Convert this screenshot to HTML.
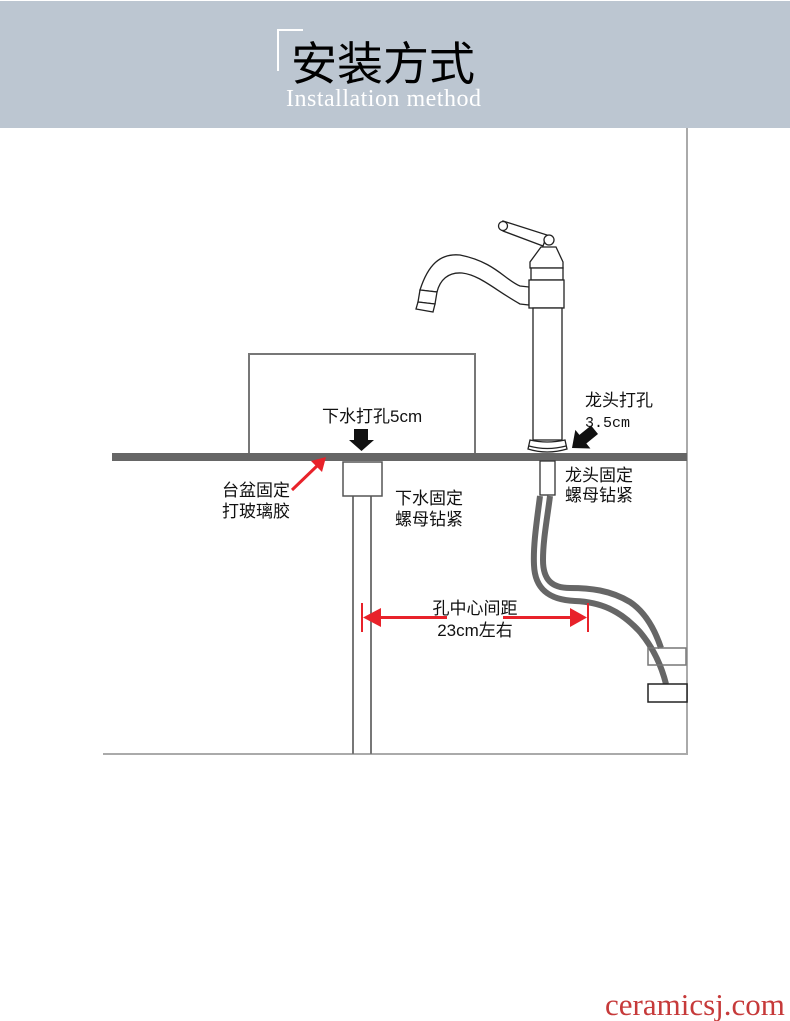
<!DOCTYPE html>
<html><head><meta charset="utf-8"><style>
html,body{margin:0;padding:0;background:#fff;}
svg{display:block;}
.cjk{font-family:"Liberation Sans","Noto Sans CJK SC",sans-serif;font-size:17px;fill:#111;}
</style></head><body>
<svg width="790" height="1021" viewBox="0 0 790 1021" xmlns="http://www.w3.org/2000/svg">
<rect x="0" y="0" width="790" height="1021" fill="#fff"/>
<!-- header -->
<rect x="0" y="1" width="790" height="127" fill="#bcc6d1"/>
<path d="M278 71 V30 H303" stroke="#fff" stroke-width="2" fill="none"/>
<text x="291" y="80" style="font-family:'Noto Sans CJK SC',sans-serif;font-size:46px;fill:#000;">安装方式</text>
<text x="286" y="106" style="font-family:'Liberation Serif',serif;font-size:24px;fill:#fff;letter-spacing:0.5px;">Installation method</text>

<!-- wall & floor -->
<line x1="687" y1="128" x2="687" y2="755" stroke="#aaa" stroke-width="2"/>
<line x1="103" y1="754" x2="688" y2="754" stroke="#aaa" stroke-width="2"/>

<!-- basin -->
<rect x="249" y="354" width="226" height="100" fill="#fff" stroke="#777" stroke-width="2"/>
<!-- counter -->
<rect x="112" y="453" width="575" height="8" fill="#666"/>

<!-- drain pipe -->
<line x1="353" y1="496" x2="353" y2="754" stroke="#777" stroke-width="2"/>
<line x1="371" y1="496" x2="371" y2="754" stroke="#777" stroke-width="2"/>
<rect x="343" y="462" width="39" height="34" fill="#fff" stroke="#555" stroke-width="1.5"/>

<!-- hose -->
<path d="M540 496 C537 520,533 545,534 565 C535 590,550 600,575 601 C600 602,620 610,640 632 C655 650,662 668,666 684" stroke="#666" stroke-width="6" fill="none"/>
<path d="M550 496 C547 520,543 540,543 560 C543 580,552 588,570 588 C590 588,610 590,630 602 C645 612,655 630,661 648" stroke="#666" stroke-width="6" fill="none"/>
<rect x="540" y="461" width="15" height="34" fill="#fff" stroke="#333" stroke-width="1.3"/>
<!-- wall boxes -->
<rect x="648" y="648" width="38" height="17" fill="none" stroke="#777" stroke-width="1.5"/>
<rect x="648" y="684" width="39" height="18" fill="#fff" stroke="#222" stroke-width="1.5"/>

<!-- faucet -->
<g stroke="#222" stroke-width="1.3" fill="#fff">
  <!-- spout -->
  <path d="M529 287 L520 286 C505 280,495 262,460 255 C440 253,428 265,420 290 L437 292 C440 280,448 272,462 273 C480 275,495 290,520 304 L529 305 Z"/>
  <path d="M420 290 L437 292 L435 304 L418 302 Z"/>
  <path d="M418 302 L435 304 L433 312 L416 309 Z"/>
  <!-- lever -->
  <path d="M503 221 L547 235 L543 246 L503 231 Z"/>
  <circle cx="503" cy="226" r="4.5"/>
  <circle cx="549" cy="240" r="5"/>
  <!-- cap -->
  <path d="M541 247 L556 247 L563 262 L563 268 L530 268 L530 262 Z"/>
  <rect x="531" y="268" width="32" height="12"/>
  <rect x="529" y="280" width="35" height="28"/>
  <rect x="533" y="308" width="29" height="132"/>
  <!-- base -->
  <path d="M530 440 Q547 444 565 440 L567 449 Q547 455 528 449 Z"/>
  <path d="M529 446 Q547 451 566 446" fill="none"/>
</g>

<!-- black arrows -->
<path d="M354 429 H368 V440 H374 L361.5 451 L349 440 H354 Z" fill="#111"/>
<g transform="translate(572,448) rotate(141)">
  <path d="M0 0 L-14 -12 L-14 -5.5 L-29 -5.5 L-29 5.5 L-14 5.5 L-14 12 Z" fill="#111"/>
</g>

<!-- red arrow basin -->
<line x1="292" y1="490" x2="318" y2="465" stroke="#e8222a" stroke-width="3"/>
<path d="M326 457 L322 472 L311 461 Z" fill="#e8222a"/>

<!-- red dimension -->
<g fill="#e8222a" stroke="none">
  <rect x="361" y="603" width="2" height="29"/>
  <rect x="587" y="603" width="2" height="29"/>
  <rect x="379" y="616" width="68" height="3"/>
  <rect x="503" y="616" width="70" height="3"/>
  <path d="M363 617.5 L381 608 L381 627 Z"/>
  <path d="M587 617.5 L570 608 L570 627 Z"/>
</g>

<!-- labels -->
<text class="cjk" x="322" y="422">下水打孔5cm</text>
<text class="cjk" x="585" y="406">龙头打孔</text>
<text x="585" y="427" style="font-family:'Liberation Mono',monospace;font-size:15px;fill:#111;">3.5cm</text>
<text class="cjk" x="565" y="481">龙头固定</text>
<text class="cjk" x="565" y="501">螺母钻紧</text>
<text class="cjk" x="222" y="496">台盆固定</text>
<text class="cjk" x="222" y="517">打玻璃胶</text>
<text class="cjk" x="395" y="504">下水固定</text>
<text class="cjk" x="395" y="525">螺母钻紧</text>
<text class="cjk" x="475" y="614" text-anchor="middle">孔中心间距</text>
<text class="cjk" x="475" y="636" text-anchor="middle">23cm左右</text>

<!-- watermark -->
<text x="605" y="1015" style="font-family:'Liberation Serif',serif;font-size:31px;fill:#c63a3a;">ceramicsj.com</text>
</svg>
</body></html>
